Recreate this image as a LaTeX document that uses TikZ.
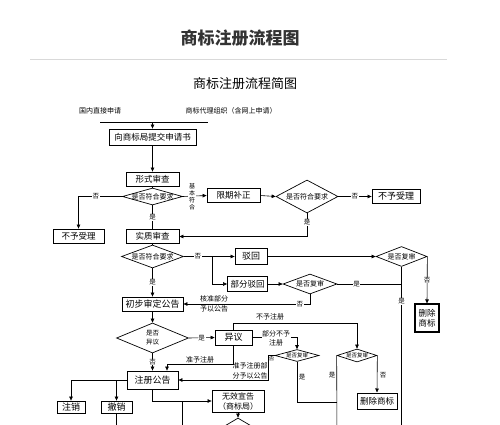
\documentclass[tikz,border=0pt]{standalone}
\usepackage{fontspec}
\newfontfamily\cjk{Noto Sans CJK SC}
\usetikzlibrary{shapes.geometric,arrows.meta}
\tikzset{
 box/.style={draw, line width=0.8pt, inner sep=0pt, align=center, font=\cjk\fontsize{8.5}{10}\selectfont},
 dia/.style={draw, diamond, line width=0.7pt, inner sep=0pt},
 dtxt/.style={inner sep=0pt, align=center, font=\cjk\fontsize{7}{8}\selectfont},
 lab/.style={inner sep=0.6pt, fill=white, font=\cjk\fontsize{6.5}{7}\selectfont},
 note/.style={inner sep=0pt, align=center, font=\cjk\fontsize{7}{9.5}\selectfont},
 ln/.style={line width=0.6pt},
 arr/.style={ln, -{Triangle[length=4pt,width=3.5pt]}},
}
\begin{document}
\begin{tikzpicture}[x=1pt,y=-1pt]
\useasboundingbox (0,0) rectangle (500,425);
\clip (0,0) rectangle (500,425);
% titles
\node[font=\cjk\bfseries\fontsize{17}{20}\selectfont, text=black!80] (title) at (240,38) {商标注册流程图};
\coordinate (gl) at (30,59); \coordinate (gr) at (447,59);
\draw[black!15, line width=0.8pt] (gl) -- (gr);
\node[font=\cjk\fontsize{13}{15}\selectfont] (sub) at (245,84) {商标注册流程简图};
\node[note] (src1) at (100,111) {国内直接申请};
\node[note] (src2) at (231,111) {商标代理组织（含网上申请）};
\coordinate (hL) at (100,122); \coordinate (hR) at (208,122);
\draw[ln] (hL) -- (hR);

% boxes
\node[box, minimum width=87pt, minimum height=16pt] (b1) at (152.5,137) {向商标局提交申请书};
\node[box, minimum width=53pt, minimum height=14pt] (b2) at (152.5,179) {形式审查};
\node[box, minimum width=51pt, minimum height=14pt] (nb1) at (78.5,236) {不予受理};
\node[box, minimum width=53pt, minimum height=14pt] (b3) at (152.5,236.5) {实质审查};
\node[box, minimum width=53pt, minimum height=14pt] (b4) at (233.5,195.5) {限期补正};
\node[box, minimum width=48pt, minimum height=14pt, font=\cjk\fontsize{9}{10}\selectfont] (nb2) at (396,196.5) {不予受理};
\node[box, minimum width=32pt, minimum height=16pt, font=\cjk\fontsize{9}{10}\selectfont] (b5) at (251,256.5) {驳回};
\node[box, minimum width=40pt, minimum height=15pt] (b6) at (247.5,284) {部分驳回};
\node[box, minimum width=24pt, minimum height=28pt, line width=1.1pt, font=\cjk\fontsize{8.5}{10.5}\selectfont] (b7) at (427,318) {删除\\商标};
\node[box, minimum width=61pt, minimum height=14pt, font=\cjk\fontsize{9}{10}\selectfont] (b8) at (152.5,304) {初步审定公告};
\node[box, minimum width=37pt, minimum height=15pt, font=\cjk\fontsize{9}{10}\selectfont] (b9) at (233.5,337.5) {异议};
\node[box, minimum width=40pt, minimum height=16pt, line width=1pt] (b10) at (377,401) {删除商标};
\node[box, minimum width=51pt, minimum height=18pt, font=\cjk\fontsize{9}{10}\selectfont] (b11) at (152.5,380) {注册公告};
\node[box, minimum width=28pt, minimum height=12pt, font=\cjk\fontsize{9}{10}\selectfont] (b12) at (71,407) {注销};
\node[box, minimum width=31pt, minimum height=12pt, font=\cjk\fontsize{9}{10}\selectfont] (b13) at (116.5,407) {撤销};
\node[box, minimum width=52pt, minimum height=22pt, font=\cjk\fontsize{8}{10}\selectfont] (b14) at (238,401) {无效宣告\\（商标局）};

% diamonds
\node[dia, minimum width=60pt, minimum height=17pt] (d1) at (152.5,196.5) {};
\node[dtxt] (d1t) at (d1) {是否符合要求};
\node[dia, minimum width=62pt, minimum height=33pt] (d2) at (307,196.5) {};
\node[dtxt] (d2t) at (d2) {是否符合要求};
\node[dia, minimum width=62pt, minimum height=23pt] (d3) at (152.5,256.5) {};
\node[dtxt] (d3t) at (d3) {是否符合要求};
\node[dia, minimum width=51pt, minimum height=20pt] (d4) at (401.5,256.5) {};
\node[dtxt] (d4t) at (d4) {是否复审};
\node[dia, minimum width=54pt, minimum height=20pt] (d5) at (310,284) {};
\node[dtxt] (d5t) at (d5) {是否复审};
\node[dia, minimum width=72pt, minimum height=30pt] (d6) at (152.5,338) {};
\node[dtxt, font=\cjk\fontsize{6.5}{9}\selectfont] (d6t) at (d6) {是否\\异议};
\node[dia, minimum width=40pt, minimum height=13pt] (d7) at (357,355.5) {};
\node[dtxt, font=\cjk\fontsize{5.5}{6}\selectfont] (d7t) at (d7) {是否复审};
\node[dia, minimum width=44pt, minimum height=12pt] (d8) at (297,355.5) {};
\node[dtxt, font=\cjk\fontsize{5.5}{6}\selectfont] (d8t) at (d8) {是否复审};
\node[dia, minimum width=54pt, minimum height=32pt] (d9) at (238,434) {};

% connectors
\draw[arr] (b1.north |- hL) -- (b1.north);
\draw[arr] (b1.south) -- (b2.north);
\draw[ln] (b2.south) -- (d1.north);
\draw[arr] (d1.west) -- node[lab, pos=0.6] (l1) {否} (nb1.north |- d1.west) -- (nb1.north);
\draw[arr] (d1.east) -- (b4.west);
\node[lab, align=center, font=\cjk\fontsize{6}{7}\selectfont] (l2) at (192,197) {基\\本\\符\\合};
\draw[ln] (d1.south) -- node[lab] (l3) {是} (b3.north);
\draw[arr] (b4.east) -- (d2.west);
\draw[arr] (d2.east) -- node[lab] (l4) {否} (nb2.west);
\draw[arr] (d2.south) -- node[lab, pos=0.4] (l5) {是} (d2.south |- b3.east) -- (b3.east);
\draw[ln] (b3.south) -- (d3.north);
\coordinate (br) at (212,256.5);
\draw[arr] (d3.east) -- node[lab] (l6) {否} (br) -- (b5.west);
\draw[arr] (br) -- (br |- b6.west) -- (b6.west);
\draw[arr] (b5.east) -- (d4.west);
\draw[arr] (d4.east) -- node[lab] (l7) {否} (b7.north);
\coordinate (rb) at (401.5,440);
\draw[ln] (d4.south) -- node[lab, pos=0.2] (l8) {是} (rb);
\draw[arr] (b6.east) -- (d5.west);
\draw[ln] (d5.east) -- node[lab, pos=0.3] (l9) {是} (d5.east -| rb);
\draw[arr] (d5.south) -- (d5.south |- b8.east) -- node[lab, pos=0.08] (l10) {否} (b8.east);
\node[note] (l11) at (214,304) {核准部分\\予以公告};
\draw[arr] (d3.south) -- node[lab] (l12) {是} (b8.north);
\draw[arr] (b8.south) -- (d6.north);
\draw[arr] (d6.east) -- node[lab] (l13) {是} (b9.west);
\coordinate (t9) at (233.5,323);
\draw[arr] (b9.north) -- (t9) -- (t9 -| d7.north) -- (d7.north);
\node[note] (l14) at (270,316.5) {不予注册};
\draw[arr] (b9.east) -- (b9.east -| d8.north) -- (d8.north);
\node[note, fill=white, inner sep=0.5pt] (l15) at (276,338.5) {部分不予\\注册};
\coordinate (c8) at (268,355.5);
\draw[arr] (d8.west) -- (c8) -- (c8 |- b11.east) -- (b11.east);
\node[lab, fill=none, inner sep=0pt, font=\cjk\fontsize{5.5}{6}\selectfont] (l16) at (271.5,359) {否};
\node[note] (l17) at (250,371) {准予注册部\\分予以公告};
\coordinate (c9) at (233.5,364);
\coordinate (c10) at (167,364);
\draw[arr] (b9.south) -- (c9) -- (c10) -- (c10 |- b11.north);
\node[note] (l18) at (200,359.5) {准予注册};
\draw[arr] (d6.south) -- node[lab] (l19) {否} (d6.south |- b11.north);
\draw[arr] (d7.east) -- (b10.north);
\node[lab, fill=none] (l20) at (383,375) {否};
\coordinate (c7) at (337,440);
\draw[ln] (d7.west) -- (c7);
\node[lab, fill=none] (l21) at (332,375) {是};
\coordinate (c8b) at (297,402);
\draw[ln] (d8.south) -- (c8b) -- (c8b -| c7);
\node[lab, fill=none] (l22) at (302,377) {是};
\coordinate (c11) at (71,380);
\draw[arr] (b11.west) -- (c11) -- (b12.north);
\draw[arr] (b11.west -| b13.north) -- (b13.north);
\draw[ln] (b13.south) -- (b13.south |- c7);
\coordinate (c12) at (152.5,401);
\draw[arr] (b11.south) -- (c12) -- (b14.west);
\coordinate (c13) at (182,401);
\draw[ln] (c13) -- (c13 |- c7);
\draw[arr] (b14.south) -- (d9.north);
\end{tikzpicture}
\end{document}
